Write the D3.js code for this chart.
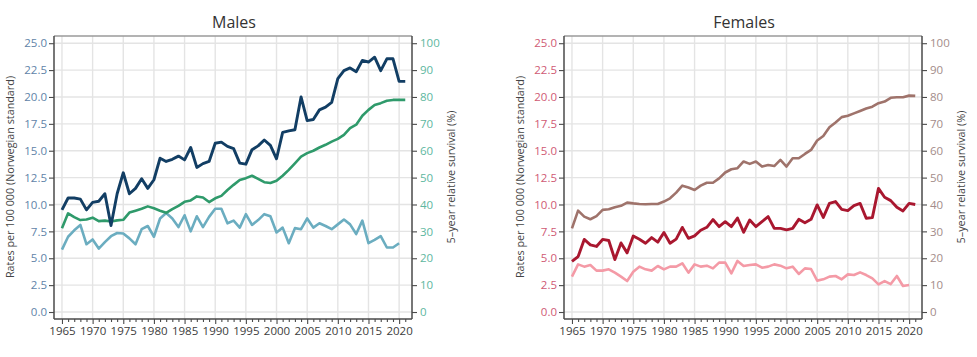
<!DOCTYPE html>
<html>
<head>
<meta charset="utf-8">
<script src="https://cdn.jsdelivr.net/npm/d3@7"></script>
<style>
  html, body { margin: 0; padding: 0; background: #ffffff; }
  svg { display: block; font-family: "Open Sans", "Noto Sans", sans-serif; }
</style>
</head>
<body>
<svg id="chart" width="977" height="357"></svg>
<script>
// ---------- data ----------
const years = [1965,1966,1967,1968,1969,1970,1971,1972,1973,1974,1975,1976,1977,1978,1979,
  1980,1981,1982,1983,1984,1985,1986,1987,1988,1989,1990,1991,1992,1993,1994,1995,1996,1997,
  1998,1999,2000,2001,2002,2003,2004,2005,2006,2007,2008,2009,2010,2011,2012,2013,2014,2015,
  2016,2017,2018,2019,2020,2021];

const maleIncidence = [9.5,10.6,10.6,10.5,9.5,10.2,10.3,11.0,8.05,11.0,
  12.95,11.0,11.5,12.4,11.5,12.3,14.3,14.0,14.2,14.5,
  14.15,15.3,13.45,13.8,14.0,15.7,15.8,15.4,15.2,13.85,
  13.75,15.1,15.45,16.0,15.5,14.25,16.7,16.85,16.95,20.0,
  17.8,17.9,18.8,19.05,19.5,21.7,22.45,22.7,22.35,23.4,
  23.25,23.7,22.45,23.55,23.55,21.45,21.45];
const maleSurvival = [31.2,36.7,35.3,34.2,34.4,35.1,33.8,34.0,33.7,34.1,
  34.3,37.0,37.7,38.4,39.3,38.6,37.7,36.9,38.3,39.5,
  41.0,41.5,43.0,42.6,40.9,42.3,43.2,45.4,47.3,49.1,
  49.8,50.7,49.5,48.3,48.0,48.8,50.7,52.9,55.3,57.8,
  59.1,60.0,61.2,62.2,63.4,64.4,65.9,68.4,69.7,73.0,
  75.2,77.0,77.7,78.6,78.9,78.9,78.9];
const maleMortality = [5.8,7.0,7.6,8.1,6.3,6.75,5.9,6.5,7.05,7.35,
  7.3,6.85,6.3,7.7,8.0,7.0,8.7,9.2,8.7,7.9,
  9.0,7.5,8.9,7.9,8.85,9.6,9.6,8.25,8.5,7.85,
  9.1,8.1,8.55,9.1,8.9,7.4,7.85,6.4,7.8,7.7,
  8.7,7.85,8.25,8.0,7.7,8.15,8.6,8.15,7.25,8.5,
  6.4,6.7,7.05,6.0,6.0,6.4];

const femaleIncidence = [4.7,5.15,6.75,6.25,6.1,6.75,6.65,4.88,6.42,5.5,
  7.07,6.76,6.39,6.92,6.5,7.4,6.39,6.78,7.87,6.85,
  7.08,7.6,7.88,8.6,7.94,8.4,7.94,8.74,7.42,8.56,
  7.94,8.4,8.87,7.78,7.78,7.63,7.78,8.62,8.3,8.62,
  9.96,8.8,10.1,10.27,9.55,9.43,9.9,10.1,8.72,8.78,
  11.5,10.67,10.36,9.74,9.4,10.1,10.0];
const femaleSurvival = [31.1,37.7,35.5,34.5,35.7,38.0,38.2,39.0,39.5,40.7,
  40.4,40.2,40.1,40.2,40.2,41.1,42.3,44.4,47.0,46.3,
  45.4,47.0,48.1,48.1,49.7,51.9,53.1,53.5,56.0,55.1,
  56.0,54.1,54.7,54.3,56.6,54.1,57.2,57.2,58.8,60.3,
  63.8,65.5,68.7,70.5,72.5,73.0,73.9,74.8,75.7,76.4,
  77.7,78.3,79.7,79.9,79.9,80.5,80.4];
const femaleMortality = [3.29,4.43,4.22,4.37,3.85,3.85,3.97,3.66,3.29,2.88,
  3.75,4.22,3.97,3.85,4.28,3.97,4.22,4.22,4.53,3.66,
  4.43,4.22,4.31,4.06,4.59,4.59,3.6,4.75,4.28,4.37,
  4.43,4.12,4.22,4.43,4.31,4.06,4.22,3.54,4.06,4.0,
  2.92,3.04,3.29,3.35,3.04,3.5,3.44,3.69,3.44,3.13,
  2.57,2.88,2.6,3.35,2.42,2.51];

const rateTicks = [0,2.5,5,7.5,10,12.5,15,17.5,20,22.5,25];
const survivalTicks = [0,10,20,30,40,50,60,70,80,90,100];
const yearTicks = [1965,1970,1975,1980,1985,1990,1995,2000,2005,2010,2015,2020];
const panelTitles = ["Males", "Females"];
const leftTitle = "Rates per 100 000 (Norwegian standard)";
const rightTitle = "5\u2013year relative survival (%)";

// ---------- drawing ----------
const svg = d3.select("#chart");

function panel(cfg) {
  const ox = cfg.offset;
  const L = 54 + ox, R = 412 + ox, T = 36, B = 319;
  const x = d3.scaleLinear().domain([1963.7, 2022.1]).range([L, R]);
  const y = d3.scaleLinear().domain([-0.65, 25.67]).range([B, T]);
  const yR = d3.scaleLinear().domain([-2.6, 102.68]).range([B, T]);
  const g = svg.append("g");

  // grid
  g.append("g").selectAll("line.h").data(rateTicks).join("line")
    .attr("x1", L).attr("x2", R).attr("y1", d => y(d)).attr("y2", d => y(d))
    .attr("stroke", "#e4e4e4").attr("stroke-width", 1.4);
  g.append("g").selectAll("line.v").data(yearTicks).join("line")
    .attr("y1", T).attr("y2", B).attr("x1", d => x(d)).attr("x2", d => x(d))
    .attr("stroke", "#e4e4e4").attr("stroke-width", 1.4);

  // top border
  g.append("line").attr("x1", L).attr("x2", R).attr("y1", T).attr("y2", T)
    .attr("stroke", "#9a9a9a").attr("stroke-width", 1.5);

  // lines
  const series = [
    {vals: cfg.mortality, scale: y, color: cfg.cMort, w: 2.6},
    {vals: cfg.survival, scale: yR, color: cfg.cSurv, w: 2.6},
    {vals: cfg.incidence, scale: y, color: cfg.cInc, w: 2.9}
  ];
  series.forEach(s => {
    const line = d3.line().x((d, i) => x(years[i])).y(d => s.scale(d));
    g.append("path").datum(s.vals).attr("d", line)
      .attr("fill", "none").attr("stroke", s.color).attr("stroke-width", s.w)
      .attr("stroke-linejoin", "round").attr("stroke-linecap", "butt");
  });

  // axes
  const axisColor = "#4a4a4a";
  const la = g.append("g").attr("transform", `translate(${L},0)`)
    .call(d3.axisLeft(y).tickValues(rateTicks).tickFormat(d3.format(".1f")).tickSize(5).tickPadding(2).tickSizeOuter(0));
  const ra = g.append("g").attr("transform", `translate(${R},0)`)
    .call(d3.axisRight(yR).tickValues(survivalTicks).tickFormat(d3.format("d")).tickSize(5).tickPadding(3).tickSizeOuter(0));
  const ba = g.append("g").attr("transform", `translate(0,${B})`)
    .call(d3.axisBottom(x).tickValues(yearTicks).tickFormat(d3.format("d")).tickSize(5).tickPadding(3).tickSizeOuter(0));
  const mi = g.append("g").attr("transform", `translate(0,${B})`)
    .call(d3.axisBottom(x).tickValues(years.filter(v => v % 5 !== 0)).tickFormat("").tickSize(3).tickSizeOuter(0));

  [la, ra, ba, mi].forEach(a => {
    a.select(".domain").attr("stroke", axisColor).attr("stroke-width", 1.5);
    a.selectAll(".tick line").attr("stroke", axisColor).attr("stroke-width", 1.1);
  });
  la.select(".domain").attr("d", `M0,${T}V${B}`);
  ra.select(".domain").attr("d", `M0,${T}V${B}`);
  ba.select(".domain").attr("d", `M${L},0H${R}`);
  mi.select(".domain").remove();

  la.selectAll(".tick text").attr("fill", cfg.cLeftTick).attr("font-size", 11.5)
    .attr("font-family", "'Open Sans', sans-serif");
  ra.selectAll(".tick text").attr("fill", cfg.cRightTick).attr("font-size", 11.5)
    .attr("font-family", "'Open Sans', sans-serif");
  ba.selectAll(".tick text").attr("fill", "#3c3c3c").attr("font-size", 11.5)
    .attr("font-family", "'Open Sans', sans-serif");

  // titles
  g.append("text").attr("x", (L + R) / 2 + 1).attr("y", 28).attr("text-anchor", "middle")
    .attr("font-size", 16).attr("fill", "#333").text(cfg.title);
  g.append("text").attr("transform", `translate(${cfg.leftTitleX},177) rotate(-90)`)
    .attr("text-anchor", "middle").attr("font-size", 10.8).attr("fill", "#444").text(leftTitle);
  g.append("text").attr("transform", `translate(${R + 43},177) rotate(-90)`)
    .attr("text-anchor", "middle").attr("font-size", 10.8).attr("fill", "#444").text(rightTitle);
}

panel({
  offset: 0, title: panelTitles[0], leftTitleX: 14,
  incidence: maleIncidence, survival: maleSurvival, mortality: maleMortality,
  cInc: "#123e64", cSurv: "#2f9a6b", cMort: "#6badc0",
  cLeftTick: "#6183a8", cRightTick: "#5db7a0"
});
panel({
  offset: 510, title: panelTitles[1], leftTitleX: 14 + 510,
  incidence: femaleIncidence, survival: femaleSurvival, mortality: femaleMortality,
  cInc: "#a9172f", cSurv: "#9f736b", cMort: "#f49aa6",
  cLeftTick: "#cf5a74", cRightTick: "#a38c8a"
});
</script>
</body>
</html>
